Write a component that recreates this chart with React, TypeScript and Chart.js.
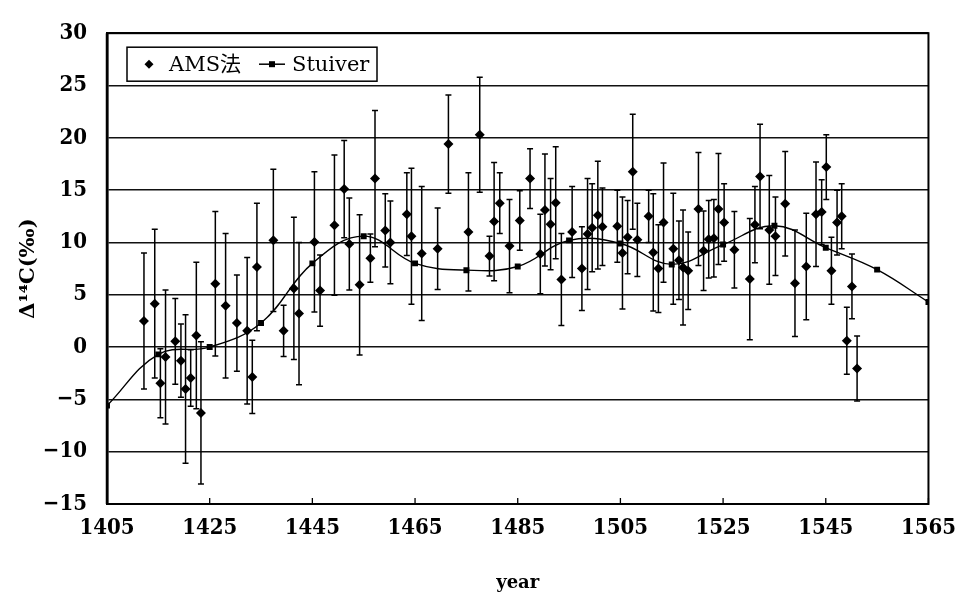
import React, { useEffect, useRef } from 'react';
import { Chart, registerables } from 'chart.js';

Chart.register(...registerables);

// ---- Data ----
const amsYears = [
  1412.2, 1414.3, 1415.4, 1416.4, 1418.3, 1419.4, 1420.3, 1421.3, 1422.4, 1423.3,
  1426.1, 1428.1, 1430.3, 1432.3, 1433.3, 1434.2, 1437.4, 1439.4, 1441.4, 1442.4,
  1445.4, 1446.5, 1449.3, 1451.2, 1452.2, 1454.2, 1456.3, 1457.2, 1459.2, 1460.2,
  1463.4, 1464.3, 1466.3, 1469.4, 1471.5, 1475.4, 1477.6, 1479.5, 1480.4, 1481.5,
  1483.4, 1485.4, 1487.4, 1489.4, 1490.3, 1491.4, 1492.4, 1493.5, 1495.6, 1497.5,
  1498.6, 1499.5, 1500.6, 1501.5, 1504.4, 1505.4, 1506.4, 1507.4, 1508.3, 1510.5,
  1511.4, 1512.4, 1513.4, 1515.3, 1516.4, 1517.2, 1518.2, 1520.2, 1521.2, 1522.2,
  1523.2, 1524.1, 1525.2, 1527.2, 1530.2, 1531.2, 1532.2, 1534.0, 1535.2, 1537.1,
  1539.0, 1541.2, 1543.1, 1544.2, 1545.1, 1546.1, 1547.2, 1548.1, 1549.1, 1550.1,
  1551.1,
];
const amsValues = [
  2.5, 4.15, -3.45, -0.95, 0.55, -1.3, -4.0, -2.95, 1.1, -6.3,
  6.05, 3.95, 2.3, 1.55, -2.85, 7.65, 10.2, 1.55, 5.6, 3.2,
  10.05, 5.4, 11.65, 15.1, 9.85, 5.95, 8.5, 16.1, 11.15, 10.0,
  12.7, 10.6, 8.95, 9.4, 19.4, 11.0, 20.3, 8.7, 12.0, 13.75,
  9.65, 12.1, 16.1, 8.9, 13.1, 11.75, 13.8, 6.45, 11.0, 7.5,
  10.8, 11.4, 12.6, 11.5, 11.55, 9.0, 10.5, 16.75, 10.25, 12.5,
  9.05, 7.5, 11.9, 9.4, 8.3, 7.6, 7.3, 13.2, 9.2, 10.3,
  10.4, 13.2, 11.9, 9.3, 6.5, 11.7, 16.3, 11.2, 10.6, 13.7,
  6.1, 7.7, 12.7, 12.9, 17.2, 7.3, 11.9, 12.5, 0.6, 5.8,
  -2.05,
];
const amsErrors = [
  6.5, 7.1, 3.3, 6.4, 4.1, 3.5, 7.1, 2.7, 7.0, 6.8,
  6.9, 6.9, 4.6, 7.0, 3.5, 6.1, 6.8, 2.45, 6.8, 6.8,
  6.7, 3.4, 6.7, 4.65, 4.4, 6.7, 2.3, 6.5, 3.5, 3.95,
  3.95, 6.5, 6.4, 3.9, 4.7, 5.65, 5.5, 1.9, 5.65, 2.9,
  4.45, 2.85, 2.85, 3.8, 5.35, 4.35, 5.35, 4.4, 4.35, 4.0,
  5.3, 4.2, 5.15, 3.7, 3.45, 5.35, 3.5, 5.5, 3.5, 2.5,
  5.6, 4.2, 5.7, 5.3, 3.75, 5.5, 3.7, 5.4, 3.8, 3.7,
  3.7, 5.3, 3.7, 3.65, 5.8, 3.65, 5.0, 5.2, 3.75, 5.0,
  5.1, 5.1, 5.0, 3.1, 3.1, 3.2, 3.1, 3.1, 3.2, 3.1,
  3.1,
];

const stuiverYears = [1405, 1415, 1425, 1435, 1445, 1455, 1465, 1475, 1485, 1495, 1505, 1515, 1525, 1535, 1545, 1555, 1565];
const stuiverValues = [-5.6, -0.7, 0.0, 2.3, 8.0, 10.6, 8.0, 7.35, 7.7, 10.2, 9.9, 7.9, 9.8, 11.6, 9.5, 7.4, 4.3];

const xTicks = [1405, 1425, 1445, 1465, 1485, 1505, 1525, 1545, 1565];
const yTicks = [-15, -10, -5, 0, 5, 10, 15, 20, 25, 30];

const seriesLabels = ['AMS法', 'Stuiver'];
const xTitle = 'year';
const yTitle = 'Δ¹⁴C(‰)';

const TICK_FONT = "'DejaVu Serif Condensed', 'DejaVu Serif', 'Liberation Serif', serif";
const TITLE_FONT = "'DejaVu Serif', 'Liberation Serif', serif";
const LEGEND_FONT = "'DejaVu Serif', 'Noto Sans CJK JP', serif";

const errorBarPlugin = {
  id: 'errorBars',
  beforeDatasetsDraw(chart: any) {
    const { ctx, scales } = chart;
    const xs = scales.x;
    const ys = scales.y;
    ctx.save();
    ctx.strokeStyle = '#000';
    ctx.lineWidth = 1.5;
    for (let i = 0; i < amsYears.length; i++) {
      const x = xs.getPixelForValue(amsYears[i]);
      const yt = ys.getPixelForValue(amsValues[i] + amsErrors[i]);
      const yb = ys.getPixelForValue(amsValues[i] - amsErrors[i]);
      ctx.beginPath();
      ctx.moveTo(x, yt);
      ctx.lineTo(x, yb);
      ctx.moveTo(x - 3, yt);
      ctx.lineTo(x + 3, yt);
      ctx.moveTo(x - 3, yb);
      ctx.lineTo(x + 3, yb);
      ctx.stroke();
    }
    ctx.restore();
  },
};

const frameTicksPlugin = {
  id: 'frameTicks',
  afterDraw(chart: any) {
    const { ctx, chartArea, scales } = chart;
    const { left, right, top, bottom } = chartArea;
    ctx.save();
    ctx.strokeStyle = '#000';
    ctx.lineWidth = 2;
    ctx.strokeRect(left, top, right - left, bottom - top);
    ctx.lineWidth = 2.5;
    ctx.beginPath();
    ctx.moveTo(left, top);
    ctx.lineTo(left, bottom);
    ctx.stroke();
    // inner x tick marks
    ctx.lineWidth = 1.3;
    ctx.beginPath();
    for (const t of xTicks) {
      const x = scales.x.getPixelForValue(t);
      ctx.moveTo(x, bottom);
      ctx.lineTo(x, bottom - 6);
    }
    ctx.stroke();

    // legend box
    const bx = left + 20;
    const by = top + 14;
    const bw = 250;
    const bh = 34;
    ctx.fillStyle = '#fff';
    ctx.fillRect(bx, by, bw, bh);
    ctx.lineWidth = 1.5;
    ctx.strokeRect(bx, by, bw, bh);
    const cy = by + bh / 2;
    ctx.fillStyle = '#000';
    // diamond
    ctx.beginPath();
    ctx.moveTo(bx + 22 - 4.5, cy);
    ctx.lineTo(bx + 22, cy - 4.5);
    ctx.lineTo(bx + 22 + 4.5, cy);
    ctx.lineTo(bx + 22, cy + 4.5);
    ctx.closePath();
    ctx.fill();
    ctx.font = `21px ${LEGEND_FONT}`;
    ctx.textBaseline = 'middle';
    ctx.textAlign = 'left';
    ctx.fillText(seriesLabels[0], bx + 42, cy + 1);
    // line + square
    ctx.lineWidth = 1.5;
    ctx.beginPath();
    ctx.moveTo(bx + 132, cy);
    ctx.lineTo(bx + 158, cy);
    ctx.stroke();
    ctx.fillRect(bx + 145 - 3, cy - 3, 6, 6);
    ctx.fillText(seriesLabels[1], bx + 165, cy + 1);
    ctx.restore();
  },
};

export default function App() {
  const canvasRef = useRef<HTMLCanvasElement | null>(null);

  useEffect(() => {
    if (!canvasRef.current) return;
    const amsData = amsYears.map((x, i) => ({ x, y: amsValues[i] }));
    const stData = stuiverYears.map((x, i) => ({ x, y: stuiverValues[i] }));
    const chart = new Chart(canvasRef.current, {
      type: 'scatter',
      data: {
        datasets: [
          {
            label: seriesLabels[0],
            data: amsData,
            showLine: false,
            pointStyle: 'rectRot',
            pointRadius: 5,
            pointBackgroundColor: '#000',
            pointBorderColor: '#000',
            pointBorderWidth: 0,
          },
          {
            label: seriesLabels[1],
            type: 'line',
            data: stData,
            showLine: true,
            tension: 0.4,
            borderColor: '#000',
            borderWidth: 1.4,
            pointStyle: 'rect',
            pointRadius: 4.2,
            pointBackgroundColor: '#000',
            pointBorderColor: '#000',
            pointBorderWidth: 0,
          } as any,
        ],
      },
      options: {
        animation: false,
        responsive: false,
        devicePixelRatio: 1,
        layout: { padding: { left: 0, top: 18, right: 27, bottom: 0 } },
        plugins: {
          legend: { display: false },
          tooltip: { enabled: false },
        },
        scales: {
          x: {
            type: 'linear',
            min: xTicks[0],
            max: xTicks[xTicks.length - 1],
            afterBuildTicks: (s: any) => {
              s.ticks = xTicks.map((v) => ({ value: v }));
            },
            afterFit: (s: any) => {
              s.height = 92;
            },
            grid: { drawOnChartArea: false, drawTicks: false },
            border: { display: true, color: '#000', width: 2 },
            ticks: {
              color: '#000',
              padding: 11,
              maxRotation: 0,
              autoSkip: false,
              font: { family: TICK_FONT, size: 22, weight: 'bold' },
              callback: (v: any) => String(v),
            },
            title: {
              display: true,
              text: xTitle,
              color: '#000',
              font: { family: TITLE_FONT, size: 18, weight: 'bold' },
              padding: { top: 0, bottom: 2 },
            },
          },
          y: {
            type: 'linear',
            min: yTicks[0],
            max: yTicks[yTicks.length - 1],
            afterBuildTicks: (s: any) => {
              s.ticks = yTicks.map((v) => ({ value: v }));
            },
            afterFit: (s: any) => {
              s.width = 107;
            },
            grid: { color: '#111', lineWidth: 1.5, drawTicks: false },
            border: { display: true, color: '#000', width: 2.5 },
            ticks: {
              color: '#000',
              padding: 20,
              font: { family: TICK_FONT, size: 22, weight: 'bold' },
              callback: (v: any) => (Number(v) < 0 ? '−' + Math.abs(Number(v)) : String(v)),
            },
            title: {
              display: true,
              text: yTitle,
              color: '#000',
              font: { family: TITLE_FONT, size: 21, weight: 'bold' },
              padding: { top: 16, bottom: 0 },
            },
          },
        },
      },
      plugins: [errorBarPlugin, frameTicksPlugin],
    });
    return () => chart.destroy();
  }, []);

  return (
    <div style={{ position: 'fixed', left: 0, top: 0, width: 967, height: 596, background: '#fff' }}>
      <canvas ref={canvasRef} width={967} height={596} />
    </div>
  );
}
